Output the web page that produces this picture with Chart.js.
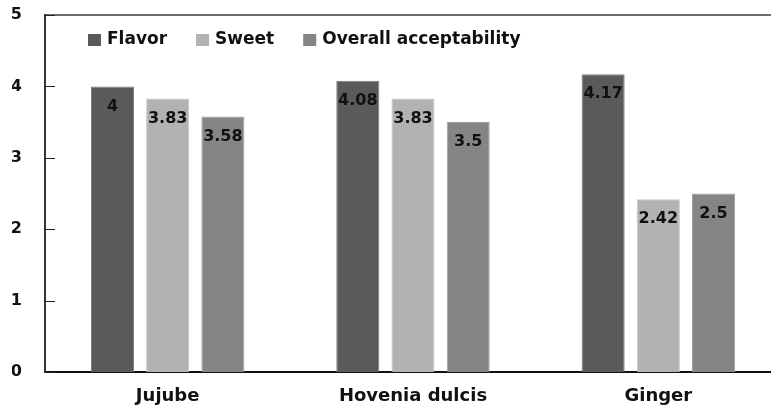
<!DOCTYPE html>
<html>
<head>
<meta charset="utf-8">
<script src="https://cdn.jsdelivr.net/npm/chart.js@4/dist/chart.umd.min.js"></script>
<style>
  html, body { margin: 0; padding: 0; background: #fff; overflow: hidden; }
  #wrap { width: 781px; height: 412px; }
</style>
</head>
<body>
<div id="wrap"><canvas id="chart" width="781" height="412"></canvas></div>
<script>
const categories = ['Jujube', 'Hovenia dulcis', 'Ginger'];
const flavor = [4, 4.08, 4.17];
const sweet = [3.83, 3.83, 2.42];
const overall = [3.58, 3.5, 2.5];
const seriesNames = ['Flavor', 'Sweet', 'Overall acceptability'];
const seriesColors = ['#5a5a5a', '#b2b2b2', '#858585'];
const seriesEdges = ['#7a7a7a', '#c6c6c6', '#a0a0a0'];

const FONT = '"DejaVu Sans", Verdana, sans-serif';

// value labels inside the top of each bar
const valueLabels = {
    id: 'valueLabels',
    afterDatasetsDraw(chart) {
        const ctx = chart.ctx;
        ctx.save();
        ctx.font = 'bold 16px ' + FONT;
        ctx.fillStyle = '#111';
        ctx.textAlign = 'center';
        ctx.textBaseline = 'middle';
        chart.data.datasets.forEach((ds, i) => {
            chart.getDatasetMeta(i).data.forEach((bar, j) => {
                ctx.fillText(String(ds.data[j]), bar.x, bar.y + 20);
            });
        });
        ctx.restore();
    }
};

// small tick marks pointing into the plot from the y axis
const innerTicks = {
    id: 'innerTicks',
    afterDraw(chart) {
        const y = chart.scales.y;
        const ctx = chart.ctx;
        ctx.save();
        ctx.strokeStyle = '#222';
        ctx.lineWidth = 1;
        y.ticks.forEach(t => {
            const py = Math.round(y.getPixelForValue(t.value)) + 0.5;
            ctx.beginPath();
            ctx.moveTo(y.right, py);
            ctx.lineTo(y.right + 10, py);
            ctx.stroke();
        });
        ctx.restore();
    }
};

// legend drawn inside the plot area
const insideLegend = {
    id: 'insideLegend',
    afterDraw(chart) {
        const ctx = chart.ctx;
        ctx.save();
        ctx.font = 'bold 17px ' + FONT;
        ctx.textBaseline = 'middle';
        let x = 88;
        const y = 40;
        chart.data.datasets.forEach(ds => {
            ctx.fillStyle = ds.backgroundColor;
            ctx.fillRect(x, y - 6, 13, 12);
            x += 19;
            ctx.fillStyle = '#111';
            ctx.fillText(ds.label, x, y);
            x += ctx.measureText(ds.label).width + 29;
        });
        ctx.restore();
    }
};

new Chart(document.getElementById('chart'), {
    type: 'bar',
    data: {
        labels: categories,
        datasets: seriesNames.map((name, i) => ({
            label: name,
            data: [flavor, sweet, overall][i],
            backgroundColor: seriesColors[i],
            borderColor: seriesEdges[i],
            borderWidth: 1
        }))
    },
    options: {
        responsive: false,
        animation: false,
        layout: { padding: { left: 12, top: 15, right: 0, bottom: 2 } },
        datasets: {
            bar: { categoryPercentage: 0.675, barPercentage: 0.78 }
        },
        plugins: {
            legend: { display: false },
            tooltip: { enabled: false }
        },
        scales: {
            x: {
                grid: { display: false, drawTicks: false },
                border: { color: '#111', width: 2 },
                afterFit: s => { s.height = 38; },
                ticks: {
                    color: '#111',
                    padding: 14,
                    font: { family: FONT, size: 18, weight: 'bold' }
                }
            },
            xTop: {
                type: 'category',
                position: 'top',
                labels: categories,
                grid: { display: false, drawTicks: false },
                border: { color: '#6e6e6e', width: 2 },
                ticks: { display: false },
                afterFit: s => { s.height = 0; }
            },
            y: {
                min: 0,
                max: 5,
                afterFit: s => { s.width = 33; s.paddingTop = 8; s.paddingBottom = 8; },
                ticks: {
                    stepSize: 1,
                    color: '#111',
                    padding: 23,
                    font: { family: FONT, size: 16, weight: 'bold' }
                },
                grid: { display: false, drawTicks: false },
                border: { color: '#333', width: 2 }
            }
        }
    },
    plugins: [valueLabels, innerTicks, insideLegend]
});
</script>
</body>
</html>
